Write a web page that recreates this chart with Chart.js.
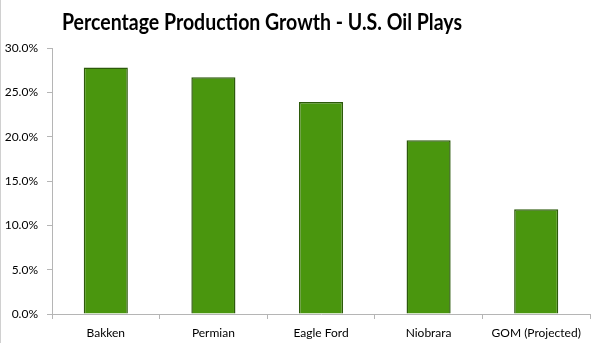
<!DOCTYPE html>
<html>
<head>
<meta charset="utf-8">
<script src="https://cdn.jsdelivr.net/npm/chart.js@4/dist/chart.umd.min.js"></script>
<style>
  html, body { margin: 0; padding: 0; background: #fff; }
  #wrap { width: 600px; height: 343px; position: relative; }
</style>
</head>
<body>
<div id="wrap"><canvas id="oilChart"></canvas></div>
<script>
const titleText = 'Percentage Production Growth - U.S. Oil Plays';
const plays = ['Bakken', 'Permian', 'Eagle Ford', 'Niobrara', 'GOM (Projected)'];
const growth = [27.8, 26.7, 23.9, 19.6, 11.8];
const yTicks = [0, 5, 10, 15, 20, 25, 30];

const labelFont = "'Lato', sans-serif";

// title is off-centre in the original, so draw it by hand
const titlePlugin = {
  id: 'offTitle',
  afterDraw(chart) {
    const ctx = chart.ctx;
    ctx.save();
    ctx.font = "bold 23px 'Lato', sans-serif";
    ctx.fillStyle = '#000';
    ctx.textAlign = 'center';
    ctx.textBaseline = 'alphabetic';
    ctx.fillText(titleText, 262, 30, 400);
    // faint frame edge on the left of the original
    ctx.fillStyle = '#d0d0d0';
    ctx.fillRect(0, 0, 1, chart.height);
    ctx.restore();
  }
};

new Chart(document.getElementById('oilChart'), {
  type: 'bar',
  data: {
    labels: plays,
    datasets: [{
      data: growth,
      backgroundColor: '#4a960e',
      borderColor: '#2c5a0a',
      borderWidth: 1.5,
      barPercentage: 0.82,
      categoryPercentage: 0.5
    }]
  },
  options: {
    responsive: true,
    maintainAspectRatio: false,
    animation: false,
    layout: { padding: { top: 48, right: 10, left: 0, bottom: 0 } },
    plugins: {
      legend: { display: false },
      title: { display: false },
      tooltip: { enabled: false }
    },
    scales: {
      x: {
        afterFit: s => { s.height = 29; },
        border: { color: '#b5b5b5', width: 1 },
        grid: { offset: true, drawOnChartArea: false, tickLength: 5, color: '#b5b5b5' },
        ticks: { color: '#000', font: { family: labelFont, size: 12 }, padding: 7, maxRotation: 0 }
      },
      y: {
        min: 0,
        max: 30,
        afterFit: s => { s.width = 52; },
        afterBuildTicks: s => { s.ticks = yTicks.map(v => ({ value: v })); },
        border: { color: '#b5b5b5', width: 1 },
        grid: { drawOnChartArea: false, tickLength: 5, color: '#b5b5b5' },
        ticks: {
          color: '#000',
          font: { family: labelFont, size: 12 },
          padding: 9,
          callback: v => v.toFixed(1) + '%'
        }
      }
    }
  },
  plugins: [titlePlugin]
});
</script>
</body>
</html>
